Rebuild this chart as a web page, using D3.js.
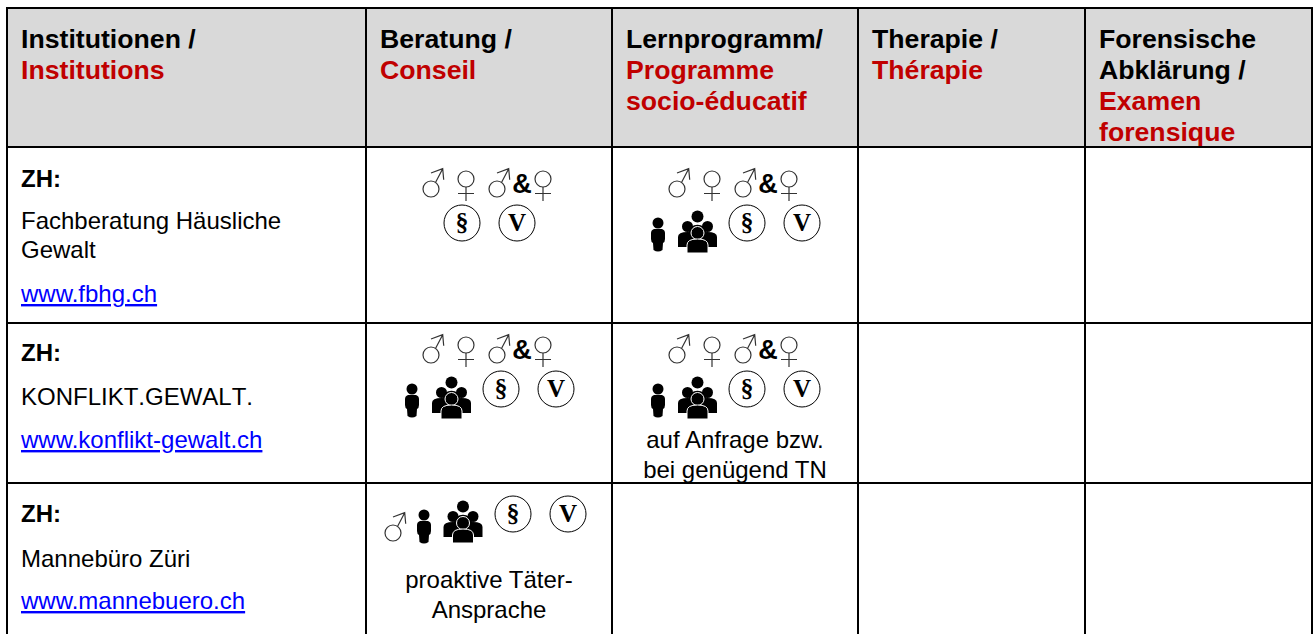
<!DOCTYPE html>
<html>
<head>
<meta charset="utf-8">
<script src="https://cdnjs.cloudflare.com/ajax/libs/d3/7.8.5/d3.min.js"></script>
<style>
html, body { margin: 0; padding: 0; background: #fff; }
svg { display: block; }
text { font-family: "Liberation Sans", Arial, sans-serif; }
</style>
</head>
<body>
<div id="chart"></div>
<script>
// table content
var columns = ["inst", "beratung", "lern", "therapie", "forensik"];
var headerDe = [["Institutionen /"], ["Beratung /"], ["Lernprogramm/"], ["Therapie /"], ["Forensische", "Abklärung /"]];
var headerFr = [["Institutions"], ["Conseil"], ["Programme", "socio-éducatif"], ["Thérapie"], ["Examen", "forensique"]];
var rowNames = ["head", "fbhg", "konflikt", "mannebuero"];
var cantons = ["ZH:", "ZH:", "ZH:"];
var institutions = [["Fachberatung Häusliche", "Gewalt"], ["KONFLIKT.GEWALT."], ["Mannebüro Züri"]];
var links = ["www.fbhg.ch", "www.konflikt-gewalt.ch", "www.mannebuero.ch"];

// which symbols stand in which cell
var beratungSymbols = [
  ["male", "female", "male2", "amp", "female2", "para", "victim"],
  ["male", "female", "male2", "amp", "female2", "single", "group", "para", "victim"],
  ["male", "single", "group", "para", "victim"]
];
var lernSymbols = [
  ["male", "female", "male2", "amp", "female2", "single", "group", "para", "victim"],
  ["male", "female", "male2", "amp", "female2", "single", "group", "para", "victim"],
  []
];
var beratungNotes = [[], [], ["proaktive Täter-", "Ansprache"]];
var lernNotes = [[], ["auf Anfrage bzw.", "bei genügend TN"], []];

// layout
var width = 1315, height = 634;
var x = d3.scaleOrdinal().domain(columns).range([7, 366, 612, 858, 1085]);
var xEnd = 1312;
var y = d3.scaleOrdinal().domain(rowNames).range([8, 147, 323, 483]);
var yEnd = 634;
var colW = function(i) { return (i < columns.length - 1 ? x(columns[i + 1]) : xEnd) - x(columns[i]); };

var textTop = [40, 38, 39];   // canton baseline per row
var nameGap = [42, 44, 45];
var linkGap = [44, 43, 42];
var iconShift = [0, -10, 0];  // second row sits higher in its cell
var noteTop = [0, 125, 105];

// symbol offsets from cell left/top
var spotsFull = {
  male: [65, 42], female: [100, 32], male2: [131, 42], amp: [156, 36], female2: [177, 32],
  single: [46, 88], group: [85.5, 86], para: [135, 76], victim: [190, 76]
};
var spotsTwoRow = {
  male: [65, 42], female: [100, 32], male2: [131, 42], amp: [156, 36], female2: [177, 32],
  para: [96, 76], victim: [151, 76]
};
var spotsMale = {
  male: [27, 50], single: [58, 44], group: [97, 40], para: [147, 31], victim: [202, 31]
};

var svg = d3.select("#chart").append("svg")
  .attr("width", width)
  .attr("height", height);

// header background
svg.append("rect")
  .attr("x", x("inst")).attr("y", y("head"))
  .attr("width", xEnd - x("inst")).attr("height", y("fbhg") - y("head"))
  .attr("fill", "#d9d9d9");

var text = function(g, px, py, s, size, weight, fill, anchor) {
  return g.append("text")
    .attr("x", px).attr("y", py)
    .attr("font-size", size)
    .attr("font-weight", weight || "normal")
    .attr("fill", fill || "#000")
    .attr("text-anchor", anchor || "start")
    .text(s);
};

// headers
var headSize = 26.67, headLine = 31, red = "#c00000", bodySize = 24;
columns.forEach(function(c, i) {
  var g = svg.append("g");
  var px = x(c) + 14, py = 48;
  headerDe[i].concat(headerFr[i]).forEach(function(s, k) {
    text(g, px, py + k * headLine, s, headSize, "bold", k < headerDe[i].length ? "#000" : red);
  });
});

// first column
rowNames.slice(1).forEach(function(r, i) {
  var g = svg.append("g").attr("transform", "translate(" + x("inst") + "," + y(r) + ")");
  var py = textTop[i];
  text(g, 14, py, cantons[i], bodySize, "bold");
  py += nameGap[i];
  institutions[i].forEach(function(s, k) {
    text(g, 14, py + k * 29, s, bodySize).style("font-kerning", "none");
  });
  py += (institutions[i].length - 1) * 29 + linkGap[i];
  text(g, 14, py, links[i], bodySize, "normal", "#0000ff").attr("text-decoration", "underline");
});

// symbols
var drawMale = function(g) {
  g.append("circle").attr("r", 8).attr("fill", "none").attr("stroke", "#333").attr("stroke-width", 1.2);
  g.append("path").attr("d", "M4.5,-6.5L11.7,-20.3M0,-16L11.7,-20.3L12.7,-9.3")
    .attr("fill", "none").attr("stroke", "#333").attr("stroke-width", 1.2);
};
var drawFemale = function(g) {
  g.append("circle").attr("r", 8).attr("fill", "none").attr("stroke", "#333").attr("stroke-width", 1.2);
  g.append("path").attr("d", "M0,8V22M-8,14.5H8")
    .attr("fill", "none").attr("stroke", "#333").attr("stroke-width", 1.2);
};
var drawBadge = function(g, s, size, dy) {
  g.append("circle").attr("r", 18).attr("fill", "#fff").attr("stroke", "#000").attr("stroke-width", 1);
  g.append("text").attr("y", dy).attr("text-anchor", "middle")
    .attr("font-size", size).attr("font-weight", "bold")
    .style("font-family", "'Liberation Serif', serif").text(s);
};
var drawSingle = function(g) {
  g.append("circle").attr("cy", -12).attr("r", 5.5);
  g.append("path").attr("d", "M-4,-6H4Q7,-5 7,-2V4Q7,7 5,8L4.5,15Q0,18 -4.5,15L-5,8Q-7,7 -7,4V-2Q-7,-5 -4,-6Z");
};
var drawGroup = function(g) {
  g.append("circle").attr("cy", -16.5).attr("r", 6);
  g.append("path").attr("d", "M-9,0C-9,-11 9,-11 9,0Z");
  [-10, 10].forEach(function(d) {
    g.append("circle").attr("cx", d).attr("cy", -6.5).attr("r", 5.5);
    g.append("path").attr("d", "M" + (d - 9.5) + ",14V4Q" + (d - 9.5) + ",-1 " + d + ",-1Q" + (d + 9.5) + ",-1 " + (d + 9.5) + ",4V14Z");
  });
  g.append("circle").attr("r", 6.5).attr("stroke", "#fff").attr("stroke-width", 1);
  g.append("path").attr("d", "M-10.5,20V12Q-10.5,6 0,6Q10.5,6 10.5,12V20Z").attr("stroke", "#fff").attr("stroke-width", 1);
};

var drawSymbol = function(cell, name, spot, shift) {
  var g = cell.append("g").attr("transform", "translate(" + spot[0] + "," + (spot[1] + shift) + ")");
  if (name == "male" || name == "male2") drawMale(g);
  else if (name == "female" || name == "female2") drawFemale(g);
  else if (name == "amp") g.append("text").attr("y", 10).attr("text-anchor", "middle")
    .attr("font-size", 27).attr("font-weight", "bold").text("&");
  else if (name == "para") drawBadge(g, "§", 26, 8);
  else if (name == "victim") drawBadge(g, "V", 25, 8);
  else if (name == "single") drawSingle(g);
  else if (name == "group") drawGroup(g);
};

var drawCell = function(col, i, names, spots, notes) {
  var left = x(col), top = y(rowNames[i + 1]), cx = colW(columns.indexOf(col)) / 2;
  var cell = svg.append("g").attr("transform", "translate(" + left + "," + top + ")");
  names.forEach(function(n) { drawSymbol(cell, n, spots[n], iconShift[i]); });
  notes.forEach(function(s, k) {
    text(cell, cx, noteTop[i] + k * 29.5, s, bodySize, "normal", "#000", "middle");
  });
};

rowNames.slice(1).forEach(function(r, i) {
  var spots = i == 0 ? spotsTwoRow : (i == 2 ? spotsMale : spotsFull);
  drawCell("beratung", i, beratungSymbols[i], spots, beratungNotes[i]);
  drawCell("lern", i, lernSymbols[i], spotsFull, lernNotes[i]);
});

// grid
var xLines = columns.map(function(c) { return x(c); }).concat([xEnd]);
var yLines = rowNames.map(function(r) { return y(r); });
svg.selectAll(".vline").data(xLines).enter().append("line")
  .attr("x1", function(d) { return d; }).attr("x2", function(d) { return d; })
  .attr("y1", y("head")).attr("y2", yEnd)
  .attr("stroke", "#000").attr("stroke-width", 2);
svg.selectAll(".hline").data(yLines).enter().append("line")
  .attr("x1", x("inst") - 1).attr("x2", xEnd + 1)
  .attr("y1", function(d) { return d; }).attr("y2", function(d) { return d; })
  .attr("stroke", "#000").attr("stroke-width", 2);
</script>
</body>
</html>
